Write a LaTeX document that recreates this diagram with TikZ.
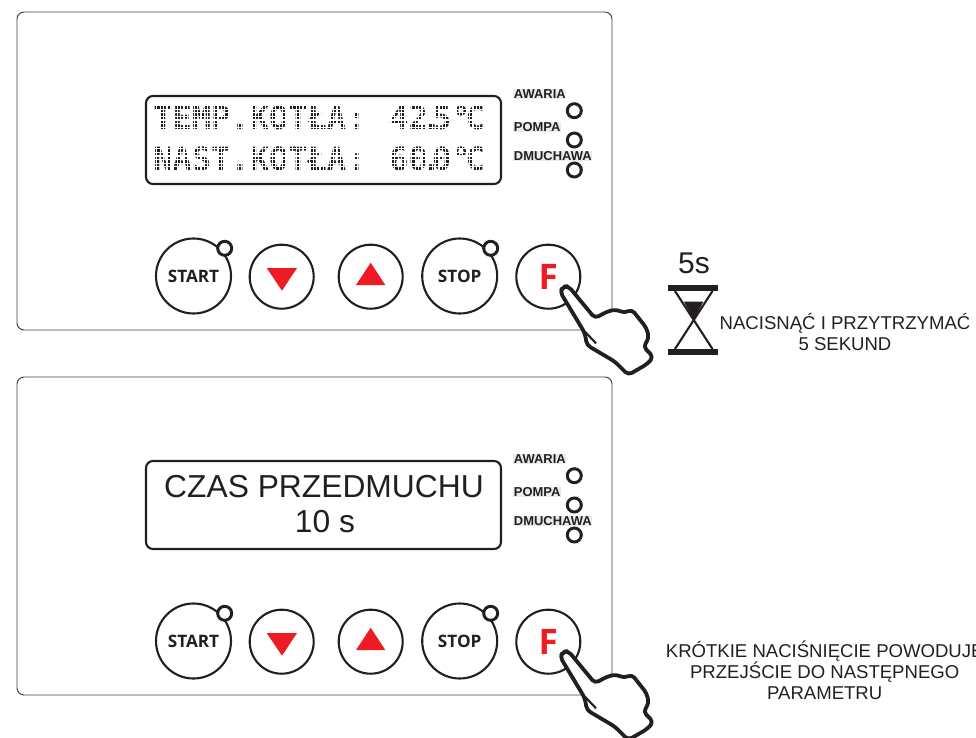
\documentclass[tikz,border=0pt]{standalone}
\usepackage{fontspec}
\usepackage{xcolor}
\setmainfont{Liberation Sans}
\newfontfamily\btnfont{Open Sans}
\newfontfamily\lcdfont{DejaVu Sans Mono}
\usetikzlibrary{positioning}
\definecolor{inkdark}{HTML}{231F20}
\definecolor{btnred}{HTML}{ED1C24}
\tikzset{
  panelbox/.style={draw=inkdark!85, line width=0.7pt, rounded corners=5pt},
  dispbox/.style={draw=inkdark, line width=1.5pt, rounded corners=5pt},
  btnring/.style={draw=inkdark, line width=1.5pt, fill=white},
  ledring/.style={draw=inkdark, line width=2.1pt, fill=white},
  ledlabel/.style={anchor=west, font=\bfseries\fontsize{9.2}{10}\selectfont, text=inkdark,
    fill=black!8, inner xsep=0.5pt, inner ysep=0.5pt},
  btnlabel/.style={font=\btnfont\bfseries\fontsize{12.2}{14}\selectfont, text=inkdark},
  lcdtext/.style={anchor=west, inner sep=0pt, font=\lcdfont\bfseries\fontsize{22.8}{24}\selectfont, text=inkdark},
  notetext/.style={align=center, text=inkdark, font=\fontsize{13.2}{15}\selectfont},
  handline/.style={draw=inkdark, line width=2.7pt, rounded corners=3pt, line join=round},
}
\begin{document}
\begin{tikzpicture}[x=0.025cm, y=-0.025cm]
\useasboundingbox (0,0) rectangle (976,738);
% --- Both front panels, the second one is 365 lower ---
\foreach \oy/\nm in {0/a,365/b} {
\begin{scope}[shift={(0,\oy)}]
\draw[panelbox] (17,12) rectangle (612,330);
% Display frame
\draw[dispbox] (146,96) rectangle (501,184);
% Signal lamps with their labels
\node[ledlabel] (awaria\nm) at (513,94) {AWARIA};
\node[ledlabel] (pompa\nm) at (513,127) {POMPA};
\node[ledlabel] (dmuchawa\nm) at (513,156) {DMUCHAWA};
\draw[ledring] (574.3,110.7) circle (7);
\draw[ledring] (574.3,140) circle (7);
\draw[ledring] (574.3,170) circle (7);
% Buttons
\node[btnring, circle, minimum size=75*0.025cm, inner sep=0pt] (start\nm) at (193.5,276) {};
\node[btnring, circle, minimum size=64*0.025cm, inner sep=0pt] (down\nm) at (281.7,276.7) {};
\node[btnring, circle, minimum size=64*0.025cm, inner sep=0pt] (up\nm) at (370.7,276.7) {};
\node[btnring, circle, minimum size=75*0.025cm, inner sep=0pt] (stop\nm) at (459.7,276) {};
\node[btnring, circle, minimum size=64*0.025cm, inner sep=0pt] (fkey\nm) at (548.3,276.7) {};
\draw[ledring] (224.7,248.3) circle (7);
\draw[ledring] (490.7,248.3) circle (7);
\node[btnlabel] at (start\nm) {START};
\node[btnlabel] at (stop\nm) {STOP};
\node[font=\btnfont\bfseries\fontsize{25}{28}\selectfont, text=btnred] at (fkey\nm) {F};
\fill[btnred] (266.7,268) -- (297,268) -- (282,290.7) -- cycle;
\fill[btnred] (356,285) -- (385.3,285) -- (370.7,262.7) -- cycle;
% Hand on the F key
\draw[handline, fill=white] (563.3,286.7) -- (568.3,286) -- (595,318.3) -- (606.7,311.7)
  -- (616.7,309.3) -- (624,313.3) -- (631.7,309.3) -- (646.7,328.3) -- (649,338.3)
  -- (643.3,346.7) -- (653.3,356.7) -- (648.3,363.3) -- (628.3,375) -- (615,361.7)
  -- (586.7,345) -- (585,333.3) -- (560,291.7) -- cycle;
\draw[draw=inkdark, line width=1.5pt] (585,331.7) -- (596,343.3);
\end{scope}
}
% --- Upper display: dot matrix ---
\node[lcdtext] (lcdtopl) at (153,118) {TEMP.KOTŁA:};
\node[lcdtext] (lcdtopr) at (389,118) {42\kern-.19em.\kern-.28em5°\kern-.16em C};
\node[lcdtext] (lcdbotl) at (153,159) {NAST.KOTŁA:};
\node[lcdtext] (lcdbotr) at (389,159) {60\kern-.19em.\kern-.28em0°\kern-.16em C};
% White raster over the letters
\foreach \gy in {102,105.6,...,176} {
  \draw[white, line width=0.75pt] (150,\gy) -- (497,\gy);
}
\foreach \gx in {150,153.4,...,497} {
  \draw[white, line width=0.75pt] (\gx,100) -- (\gx,176);
}
% --- Lower display ---
\node[text=inkdark, font=\fontsize{22.6}{26}\selectfont] (paramname) at (324,487) {CZAS PRZEDMUCHU};
\node[text=inkdark, font=\fontsize{22.6}{26}\selectfont] (paramval) at (325,522) {10 s};
% --- Hourglass with its time ---
\node[text=inkdark, font=\fontsize{21.3}{24}\selectfont] (holdtime) at (694,263) {5s};
\fill[inkdark] (668.3,285) rectangle (718.3,291);
\fill[inkdark] (668.3,349) rectangle (718.3,355);
\draw[inkdark, line width=1.5pt] (675,291) -- (712.5,349);
\draw[inkdark, line width=1.5pt] (712.5,291) -- (675,349);
\fill[inkdark] (684,301.7) -- (703.3,301.7) -- (693.7,320) -- cycle;
% --- Notes ---
\node[notetext] (holdnote) at (845,332) {NACISNĄĆ I PRZYTRZYMAĆ\\5 SEKUND};
\node[notetext, font=\fontsize{13.2}{14.9}\selectfont] (shortnote) at (824.7,670) {KRÓTKIE NACIŚNIĘCIE POWODUJE\\PRZEJŚCIE DO NASTĘPNEGO\\PARAMETRU};
\end{tikzpicture}
\end{document}
